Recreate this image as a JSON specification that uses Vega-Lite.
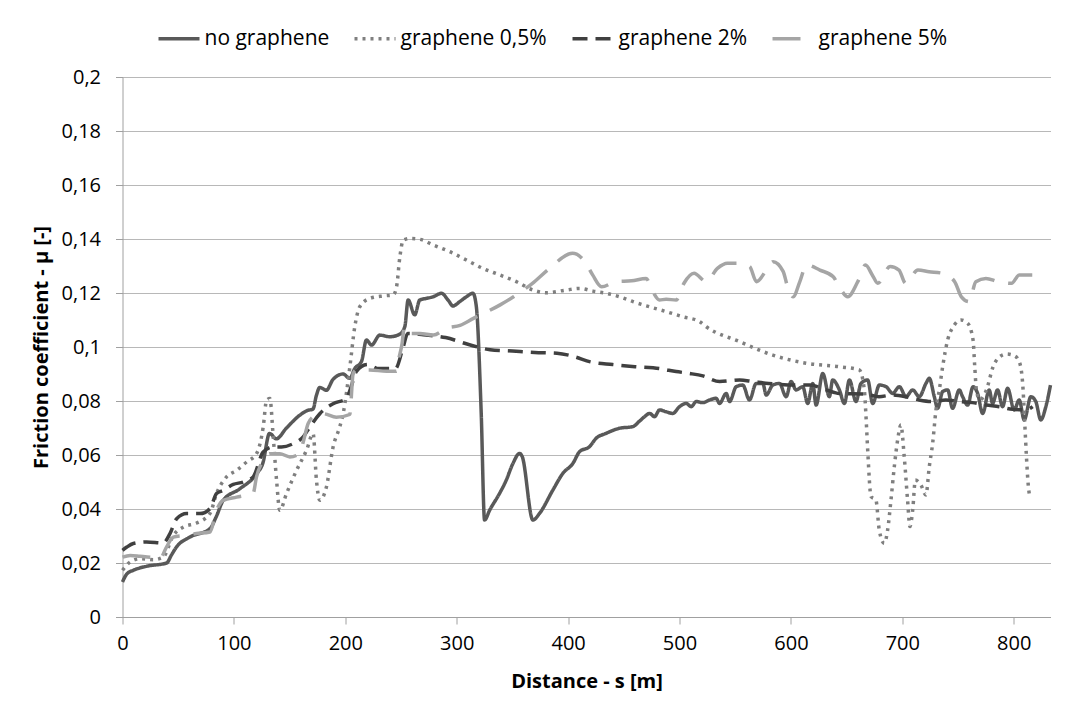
{
  "$schema": "https://vega.github.io/schema/vega-lite/v6.json",
  "width": 928,
  "height": 540,
  "autosize": {"type": "none"},
  "padding": {"left": 122.5, "top": 77, "right": 25, "bottom": 90},
  "background": "white",
  "config": {
    "view": {"stroke": null},
    "font": "Open Sans",
    "axis": {
      "labelFont": "Open Sans", "labelFontSize": 20, "labelColor": "#000000",
      "titleFont": "Open Sans", "titleFontSize": 20, "titleFontWeight": "bold", "titleColor": "#000000",
      "domainColor": "#a0a0a0", "domainWidth": 1, "tickColor": "#a0a0a0", "tickSize": 7,
      "gridColor": "#b8b8b8", "gridWidth": 1
    },
    "legend": {
      "labelFont": "Open Sans", "labelFontSize": 21, "labelColor": "#000000",
      "symbolType": "stroke", "symbolSize": 1681, "symbolStrokeWidth": 3.5,
      "columnPadding": 18, "labelOffset": 3, "labelLimit": 400
    }
  },
  "datasets": {
    "rows": [
      {"series":"no graphene","s":0,"mu":0.013},{"series":"no graphene","s":4,"mu":0.016},{"series":"no graphene","s":9.7,"mu":0.0173},{"series":"no graphene","s":21.7,"mu":0.0188},{"series":"no graphene","s":39.6,"mu":0.02},{"series":"no graphene","s":44,"mu":0.023},{"series":"no graphene","s":48.6,"mu":0.026},{"series":"no graphene","s":60.5,"mu":0.0296},{"series":"no graphene","s":78.5,"mu":0.0327},{"series":"no graphene","s":84,"mu":0.037},{"series":"no graphene","s":90.4,"mu":0.0432},{"series":"no graphene","s":105.4,"mu":0.0475},{"series":"no graphene","s":120.3,"mu":0.053},{"series":"no graphene","s":126,"mu":0.057},{"series":"no graphene","s":132,"mu":0.068},{"series":"no graphene","s":138,"mu":0.066},{"series":"no graphene","s":147.2,"mu":0.07},{"series":"no graphene","s":159,"mu":0.0747},{"series":"no graphene","s":166,"mu":0.0765},{"series":"no graphene","s":171,"mu":0.077},{"series":"no graphene","s":174,"mu":0.082},{"series":"no graphene","s":177,"mu":0.085},{"series":"no graphene","s":183,"mu":0.084},{"series":"no graphene","s":189,"mu":0.088},{"series":"no graphene","s":198,"mu":0.09},{"series":"no graphene","s":204,"mu":0.0884},{"series":"no graphene","s":208.6,"mu":0.0921},{"series":"no graphene","s":214.5,"mu":0.0946},{"series":"no graphene","s":219,"mu":0.1026},{"series":"no graphene","s":223.5,"mu":0.1007},{"series":"no graphene","s":231,"mu":0.1044},{"series":"no graphene","s":240,"mu":0.1038},{"series":"no graphene","s":249,"mu":0.1048},{"series":"no graphene","s":253.4,"mu":0.1075},{"series":"no graphene","s":256.4,"mu":0.1174},{"series":"no graphene","s":262.3,"mu":0.1119},{"series":"no graphene","s":266.8,"mu":0.1174},{"series":"no graphene","s":272.8,"mu":0.118},{"series":"no graphene","s":278.8,"mu":0.1186},{"series":"no graphene","s":286.3,"mu":0.1199},{"series":"no graphene","s":292.2,"mu":0.1174},{"series":"no graphene","s":296.7,"mu":0.1152},{"series":"no graphene","s":302.7,"mu":0.1168},{"series":"no graphene","s":308.7,"mu":0.1186},{"series":"no graphene","s":314.6,"mu":0.1199},{"series":"no graphene","s":317.6,"mu":0.115},{"series":"no graphene","s":322,"mu":0.0754},{"series":"no graphene","s":325,"mu":0.0359},{"series":"no graphene","s":329.6,"mu":0.0396},{"series":"no graphene","s":338.5,"mu":0.0458},{"series":"no graphene","s":344.5,"mu":0.0507},{"series":"no graphene","s":350.5,"mu":0.0569},{"series":"no graphene","s":356.4,"mu":0.0606},{"series":"no graphene","s":358.8,"mu":0.0594},{"series":"no graphene","s":368.4,"mu":0.0359},{"series":"no graphene","s":374.4,"mu":0.0384},{"series":"no graphene","s":386.3,"mu":0.047},{"series":"no graphene","s":395.3,"mu":0.0532},{"series":"no graphene","s":404.3,"mu":0.0569},{"series":"no graphene","s":410.2,"mu":0.0612},{"series":"no graphene","s":419.2,"mu":0.0631},{"series":"no graphene","s":425.2,"mu":0.0662},{"series":"no graphene","s":434,"mu":0.068},{"series":"no graphene","s":446,"mu":0.0699},{"series":"no graphene","s":458,"mu":0.0705},{"series":"no graphene","s":464,"mu":0.0725},{"series":"no graphene","s":468.6,"mu":0.0742},{"series":"no graphene","s":473.1,"mu":0.0754},{"series":"no graphene","s":477.6,"mu":0.0742},{"series":"no graphene","s":482.1,"mu":0.0767},{"series":"no graphene","s":488,"mu":0.076},{"series":"no graphene","s":494,"mu":0.0754},{"series":"no graphene","s":500,"mu":0.0779},{"series":"no graphene","s":506,"mu":0.0791},{"series":"no graphene","s":510.5,"mu":0.0779},{"series":"no graphene","s":515,"mu":0.0798},{"series":"no graphene","s":521,"mu":0.0794},{"series":"no graphene","s":527,"mu":0.0804},{"series":"no graphene","s":532.9,"mu":0.081},{"series":"no graphene","s":535.9,"mu":0.0791},{"series":"no graphene","s":541.9,"mu":0.0828},{"series":"no graphene","s":544.9,"mu":0.0798},{"series":"no graphene","s":550.9,"mu":0.0853},{"series":"no graphene","s":556.8,"mu":0.0859},{"series":"no graphene","s":562.8,"mu":0.0804},{"series":"no graphene","s":568.8,"mu":0.0865},{"series":"no graphene","s":574.8,"mu":0.0865},{"series":"no graphene","s":577.8,"mu":0.0822},{"series":"no graphene","s":583.7,"mu":0.0859},{"series":"no graphene","s":589.7,"mu":0.0865},{"series":"no graphene","s":595.7,"mu":0.0816},{"series":"no graphene","s":600.2,"mu":0.0872},{"series":"no graphene","s":604.6,"mu":0.0841},{"series":"no graphene","s":610.6,"mu":0.0853},{"series":"no graphene","s":615.1,"mu":0.0791},{"series":"no graphene","s":619.6,"mu":0.0865},{"series":"no graphene","s":622.6,"mu":0.0785},{"series":"no graphene","s":628.6,"mu":0.0902},{"series":"no graphene","s":634.5,"mu":0.0816},{"series":"no graphene","s":637.5,"mu":0.0878},{"series":"no graphene","s":643.5,"mu":0.0841},{"series":"no graphene","s":648,"mu":0.0791},{"series":"no graphene","s":652.5,"mu":0.0878},{"series":"no graphene","s":658.4,"mu":0.0798},{"series":"no graphene","s":662.9,"mu":0.0865},{"series":"no graphene","s":668.9,"mu":0.0878},{"series":"no graphene","s":673.4,"mu":0.0791},{"series":"no graphene","s":679.4,"mu":0.0859},{"series":"no graphene","s":685.4,"mu":0.0853},{"series":"no graphene","s":691.3,"mu":0.0828},{"series":"no graphene","s":697.3,"mu":0.0853},{"series":"no graphene","s":703.3,"mu":0.0816},{"series":"no graphene","s":709.3,"mu":0.0841},{"series":"no graphene","s":715.2,"mu":0.0816},{"series":"no graphene","s":721.2,"mu":0.0865},{"series":"no graphene","s":724.2,"mu":0.0884},{"series":"no graphene","s":728.7,"mu":0.0816},{"series":"no graphene","s":731.7,"mu":0.0773},{"series":"no graphene","s":736.2,"mu":0.0835},{"series":"no graphene","s":740.7,"mu":0.0841},{"series":"no graphene","s":745.1,"mu":0.0773},{"series":"no graphene","s":751.1,"mu":0.0841},{"series":"no graphene","s":754.1,"mu":0.0816},{"series":"no graphene","s":758.6,"mu":0.0785},{"series":"no graphene","s":763.5,"mu":0.0853},{"series":"no graphene","s":767.6,"mu":0.0828},{"series":"no graphene","s":772.1,"mu":0.0754},{"series":"no graphene","s":778,"mu":0.0841},{"series":"no graphene","s":781,"mu":0.0791},{"series":"no graphene","s":785.5,"mu":0.0841},{"series":"no graphene","s":790,"mu":0.0779},{"series":"no graphene","s":794.5,"mu":0.0847},{"series":"no graphene","s":800.4,"mu":0.0767},{"series":"no graphene","s":804.9,"mu":0.0804},{"series":"no graphene","s":809.4,"mu":0.073},{"series":"no graphene","s":815.4,"mu":0.0816},{"series":"no graphene","s":819.8,"mu":0.0798},{"series":"no graphene","s":824.3,"mu":0.073},{"series":"no graphene","s":828.8,"mu":0.0779},{"series":"no graphene","s":833,"mu":0.0859},

      {"series":"graphene 0,5%","s":0,"mu":0.0173},{"series":"graphene 0,5%","s":6.9,"mu":0.0204},{"series":"graphene 0,5%","s":15.7,"mu":0.0216},{"series":"graphene 0,5%","s":27.7,"mu":0.0212},{"series":"graphene 0,5%","s":36.6,"mu":0.0222},{"series":"graphene 0,5%","s":45.6,"mu":0.0302},{"series":"graphene 0,5%","s":54.6,"mu":0.0333},{"series":"graphene 0,5%","s":66.5,"mu":0.0348},{"series":"graphene 0,5%","s":78.5,"mu":0.0383},{"series":"graphene 0,5%","s":84.4,"mu":0.0457},{"series":"graphene 0,5%","s":93.4,"mu":0.0519},{"series":"graphene 0,5%","s":102.4,"mu":0.0543},{"series":"graphene 0,5%","s":111.4,"mu":0.0574},{"series":"graphene 0,5%","s":120.3,"mu":0.0605},{"series":"graphene 0,5%","s":126.3,"mu":0.0704},{"series":"graphene 0,5%","s":129.3,"mu":0.0802},{"series":"graphene 0,5%","s":132.3,"mu":0.0809},{"series":"graphene 0,5%","s":135.3,"mu":0.0667},{"series":"graphene 0,5%","s":138.3,"mu":0.0506},{"series":"graphene 0,5%","s":141.2,"mu":0.0395},{"series":"graphene 0,5%","s":147.2,"mu":0.0457},{"series":"graphene 0,5%","s":156.2,"mu":0.0543},{"series":"graphene 0,5%","s":165.1,"mu":0.0617},{"series":"graphene 0,5%","s":171.1,"mu":0.0679},{"series":"graphene 0,5%","s":174.1,"mu":0.0506},{"series":"graphene 0,5%","s":177.1,"mu":0.0432},{"series":"graphene 0,5%","s":183,"mu":0.0481},{"series":"graphene 0,5%","s":189.1,"mu":0.0631},{"series":"graphene 0,5%","s":195,"mu":0.0704},{"series":"graphene 0,5%","s":198.1,"mu":0.0754},{"series":"graphene 0,5%","s":204.1,"mu":0.0927},{"series":"graphene 0,5%","s":208.5,"mu":0.1075},{"series":"graphene 0,5%","s":213,"mu":0.1149},{"series":"graphene 0,5%","s":222,"mu":0.118},{"series":"graphene 0,5%","s":234,"mu":0.1189},{"series":"graphene 0,5%","s":243,"mu":0.1193},{"series":"graphene 0,5%","s":246,"mu":0.1223},{"series":"graphene 0,5%","s":249,"mu":0.1335},{"series":"graphene 0,5%","s":252,"mu":0.1396},{"series":"graphene 0,5%","s":258,"mu":0.1402},{"series":"graphene 0,5%","s":266.8,"mu":0.1399},{"series":"graphene 0,5%","s":278.8,"mu":0.1378},{"series":"graphene 0,5%","s":293.7,"mu":0.1353},{"series":"graphene 0,5%","s":308.7,"mu":0.1322},{"series":"graphene 0,5%","s":323.6,"mu":0.1291},{"series":"graphene 0,5%","s":338.6,"mu":0.1267},{"series":"graphene 0,5%","s":353.5,"mu":0.1242},{"series":"graphene 0,5%","s":368.5,"mu":0.1211},{"series":"graphene 0,5%","s":380.4,"mu":0.1201},{"series":"graphene 0,5%","s":398.4,"mu":0.1211},{"series":"graphene 0,5%","s":410.3,"mu":0.1217},{"series":"graphene 0,5%","s":422.3,"mu":0.1207},{"series":"graphene 0,5%","s":434.2,"mu":0.1199},{"series":"graphene 0,5%","s":446.2,"mu":0.1186},{"series":"graphene 0,5%","s":458.2,"mu":0.1168},{"series":"graphene 0,5%","s":473.1,"mu":0.1149},{"series":"graphene 0,5%","s":488,"mu":0.1131},{"series":"graphene 0,5%","s":503,"mu":0.1112},{"series":"graphene 0,5%","s":518,"mu":0.1094},{"series":"graphene 0,5%","s":524,"mu":0.1075},{"series":"graphene 0,5%","s":553.8,"mu":0.102},{"series":"graphene 0,5%","s":583.7,"mu":0.097},{"series":"graphene 0,5%","s":613.6,"mu":0.094},{"series":"graphene 0,5%","s":643.5,"mu":0.0927},{"series":"graphene 0,5%","s":661.4,"mu":0.0915},{"series":"graphene 0,5%","s":665.9,"mu":0.0841},{"series":"graphene 0,5%","s":667.4,"mu":0.0742},{"series":"graphene 0,5%","s":668.9,"mu":0.0619},{"series":"graphene 0,5%","s":671.9,"mu":0.0446},{"series":"graphene 0,5%","s":676.3,"mu":0.0433},{"series":"graphene 0,5%","s":679.3,"mu":0.0322},{"series":"graphene 0,5%","s":683.8,"mu":0.0273},{"series":"graphene 0,5%","s":686.8,"mu":0.0322},{"series":"graphene 0,5%","s":689.8,"mu":0.0433},{"series":"graphene 0,5%","s":692.8,"mu":0.0557},{"series":"graphene 0,5%","s":695.8,"mu":0.0656},{"series":"graphene 0,5%","s":698.7,"mu":0.0711},{"series":"graphene 0,5%","s":701.7,"mu":0.0594},{"series":"graphene 0,5%","s":704.7,"mu":0.0433},{"series":"graphene 0,5%","s":706.8,"mu":0.0335},{"series":"graphene 0,5%","s":709.3,"mu":0.0396},{"series":"graphene 0,5%","s":711.7,"mu":0.0507},{"series":"graphene 0,5%","s":716.7,"mu":0.0489},{"series":"graphene 0,5%","s":721.2,"mu":0.0452},{"series":"graphene 0,5%","s":724.2,"mu":0.0557},{"series":"graphene 0,5%","s":727.2,"mu":0.0643},{"series":"graphene 0,5%","s":730.2,"mu":0.0767},{"series":"graphene 0,5%","s":733.2,"mu":0.0841},{"series":"graphene 0,5%","s":736.2,"mu":0.0927},{"series":"graphene 0,5%","s":740.7,"mu":0.1026},{"series":"graphene 0,5%","s":746.6,"mu":0.1081},{"series":"graphene 0,5%","s":752.6,"mu":0.11},{"series":"graphene 0,5%","s":758.6,"mu":0.1088},{"series":"graphene 0,5%","s":763.5,"mu":0.1026},{"series":"graphene 0,5%","s":765,"mu":0.0927},{"series":"graphene 0,5%","s":766.5,"mu":0.0841},{"series":"graphene 0,5%","s":769.5,"mu":0.0804},{"series":"graphene 0,5%","s":775.5,"mu":0.0841},{"series":"graphene 0,5%","s":781.5,"mu":0.0927},{"series":"graphene 0,5%","s":787.4,"mu":0.0964},{"series":"graphene 0,5%","s":793.4,"mu":0.0974},{"series":"graphene 0,5%","s":800.9,"mu":0.0967},{"series":"graphene 0,5%","s":805.4,"mu":0.094},{"series":"graphene 0,5%","s":808.4,"mu":0.0841},{"series":"graphene 0,5%","s":809.9,"mu":0.0717},{"series":"graphene 0,5%","s":811.4,"mu":0.0594},{"series":"graphene 0,5%","s":812.9,"mu":0.0495},{"series":"graphene 0,5%","s":814.3,"mu":0.0446},

      {"series":"graphene 2%","s":0,"mu":0.0247},{"series":"graphene 2%","s":3.9,"mu":0.0259},{"series":"graphene 2%","s":9.7,"mu":0.0272},{"series":"graphene 2%","s":21.7,"mu":0.0278},{"series":"graphene 2%","s":36.6,"mu":0.0274},{"series":"graphene 2%","s":42.6,"mu":0.0309},{"series":"graphene 2%","s":48.6,"mu":0.0364},{"series":"graphene 2%","s":57.6,"mu":0.0383},{"series":"graphene 2%","s":69.5,"mu":0.0383},{"series":"graphene 2%","s":78.5,"mu":0.0401},{"series":"graphene 2%","s":84.4,"mu":0.0457},{"series":"graphene 2%","s":90.4,"mu":0.0469},{"series":"graphene 2%","s":99.4,"mu":0.0491},{"series":"graphene 2%","s":108.3,"mu":0.05},{"series":"graphene 2%","s":117.3,"mu":0.0519},{"series":"graphene 2%","s":126.3,"mu":0.0611},{"series":"graphene 2%","s":135.3,"mu":0.063},{"series":"graphene 2%","s":142.7,"mu":0.063},{"series":"graphene 2%","s":153.2,"mu":0.0642},{"series":"graphene 2%","s":162.2,"mu":0.0667},{"series":"graphene 2%","s":168.2,"mu":0.0704},{"series":"graphene 2%","s":177.1,"mu":0.0753},{"series":"graphene 2%","s":189,"mu":0.079},{"series":"graphene 2%","s":201,"mu":0.0809},{"series":"graphene 2%","s":205,"mu":0.085},{"series":"graphene 2%","s":210,"mu":0.091},{"series":"graphene 2%","s":220,"mu":0.0935},{"series":"graphene 2%","s":230,"mu":0.092},{"series":"graphene 2%","s":245,"mu":0.092},{"series":"graphene 2%","s":252,"mu":0.1},{"series":"graphene 2%","s":256,"mu":0.105},{"series":"graphene 2%","s":270,"mu":0.1045},{"series":"graphene 2%","s":290,"mu":0.1035},{"series":"graphene 2%","s":310,"mu":0.101},{"series":"graphene 2%","s":330,"mu":0.099},{"series":"graphene 2%","s":350,"mu":0.0985},{"series":"graphene 2%","s":370,"mu":0.098},{"series":"graphene 2%","s":390,"mu":0.0977},{"series":"graphene 2%","s":405,"mu":0.0965},{"series":"graphene 2%","s":420,"mu":0.0945},{"series":"graphene 2%","s":440,"mu":0.0935},{"series":"graphene 2%","s":460,"mu":0.0927},{"series":"graphene 2%","s":482,"mu":0.092},{"series":"graphene 2%","s":497,"mu":0.0909},{"series":"graphene 2%","s":509,"mu":0.0902},{"series":"graphene 2%","s":521,"mu":0.0893},{"series":"graphene 2%","s":536,"mu":0.0872},{"series":"graphene 2%","s":554,"mu":0.0878},{"series":"graphene 2%","s":566,"mu":0.0872},{"series":"graphene 2%","s":580,"mu":0.0865},{"series":"graphene 2%","s":605,"mu":0.0859},{"series":"graphene 2%","s":617,"mu":0.0859},{"series":"graphene 2%","s":632,"mu":0.0841},{"series":"graphene 2%","s":643.5,"mu":0.0828},{"series":"graphene 2%","s":667,"mu":0.0826},{"series":"graphene 2%","s":679,"mu":0.0816},{"series":"graphene 2%","s":691,"mu":0.0822},{"series":"graphene 2%","s":703,"mu":0.0816},{"series":"graphene 2%","s":715,"mu":0.0804},{"series":"graphene 2%","s":727,"mu":0.0798},{"series":"graphene 2%","s":739,"mu":0.0804},{"series":"graphene 2%","s":751,"mu":0.0798},{"series":"graphene 2%","s":763,"mu":0.0794},{"series":"graphene 2%","s":775,"mu":0.0785},{"series":"graphene 2%","s":787,"mu":0.0779},{"series":"graphene 2%","s":799,"mu":0.0769},{"series":"graphene 2%","s":811,"mu":0.0767},{"series":"graphene 2%","s":817,"mu":0.0779},

      {"series":"graphene 5%","s":0,"mu":0.0222},{"series":"graphene 5%","s":6.9,"mu":0.0228},{"series":"graphene 5%","s":15.7,"mu":0.0225},{"series":"graphene 5%","s":27.7,"mu":0.022},{"series":"graphene 5%","s":33.6,"mu":0.0216},{"series":"graphene 5%","s":39.6,"mu":0.026},{"series":"graphene 5%","s":45.6,"mu":0.0296},{"series":"graphene 5%","s":54.6,"mu":0.0302},{"series":"graphene 5%","s":66.5,"mu":0.0309},{"series":"graphene 5%","s":78.5,"mu":0.0315},{"series":"graphene 5%","s":84.4,"mu":0.0395},{"series":"graphene 5%","s":90.4,"mu":0.0432},{"series":"graphene 5%","s":102.4,"mu":0.0444},{"series":"graphene 5%","s":117.3,"mu":0.0459},{"series":"graphene 5%","s":120.3,"mu":0.0519},{"series":"graphene 5%","s":126.3,"mu":0.058},{"series":"graphene 5%","s":132.3,"mu":0.0605},{"series":"graphene 5%","s":141.2,"mu":0.0605},{"series":"graphene 5%","s":150.2,"mu":0.0593},{"series":"graphene 5%","s":159.2,"mu":0.0605},{"series":"graphene 5%","s":162.2,"mu":0.0648},{"series":"graphene 5%","s":166.6,"mu":0.0716},{"series":"graphene 5%","s":171.1,"mu":0.0741},{"series":"graphene 5%","s":180,"mu":0.0753},{"series":"graphene 5%","s":192,"mu":0.074},{"series":"graphene 5%","s":204,"mu":0.075},{"series":"graphene 5%","s":207,"mu":0.09},{"series":"graphene 5%","s":210,"mu":0.0915},{"series":"graphene 5%","s":222,"mu":0.0915},{"series":"graphene 5%","s":237,"mu":0.091},{"series":"graphene 5%","s":246,"mu":0.091},{"series":"graphene 5%","s":247.5,"mu":0.0946},{"series":"graphene 5%","s":251,"mu":0.1014},{"series":"graphene 5%","s":253,"mu":0.1075},{"series":"graphene 5%","s":258,"mu":0.105},{"series":"graphene 5%","s":267,"mu":0.105},{"series":"graphene 5%","s":279,"mu":0.1044},{"series":"graphene 5%","s":291,"mu":0.107},{"series":"graphene 5%","s":303,"mu":0.108},{"series":"graphene 5%","s":315,"mu":0.1106},{"series":"graphene 5%","s":339,"mu":0.1156},{"series":"graphene 5%","s":351,"mu":0.1186},{"series":"graphene 5%","s":368,"mu":0.1236},{"series":"graphene 5%","s":383,"mu":0.129},{"series":"graphene 5%","s":404,"mu":0.1347},{"series":"graphene 5%","s":415,"mu":0.1316},{"series":"graphene 5%","s":422,"mu":0.1267},{"series":"graphene 5%","s":430,"mu":0.1223},{"series":"graphene 5%","s":443,"mu":0.1242},{"series":"graphene 5%","s":457,"mu":0.1245},{"series":"graphene 5%","s":470,"mu":0.1254},{"series":"graphene 5%","s":476,"mu":0.1205},{"series":"graphene 5%","s":482,"mu":0.1174},{"series":"graphene 5%","s":488,"mu":0.1177},{"series":"graphene 5%","s":497,"mu":0.1174},{"series":"graphene 5%","s":504,"mu":0.1236},{"series":"graphene 5%","s":513,"mu":0.1273},{"series":"graphene 5%","s":524,"mu":0.1242},{"series":"graphene 5%","s":534,"mu":0.1291},{"series":"graphene 5%","s":543,"mu":0.131},{"series":"graphene 5%","s":554,"mu":0.131},{"series":"graphene 5%","s":563,"mu":0.1298},{"series":"graphene 5%","s":569,"mu":0.1242},{"series":"graphene 5%","s":578,"mu":0.1285},{"series":"graphene 5%","s":584,"mu":0.1316},{"series":"graphene 5%","s":593,"mu":0.128},{"series":"graphene 5%","s":597,"mu":0.1223},{"series":"graphene 5%","s":602,"mu":0.1186},{"series":"graphene 5%","s":608,"mu":0.1242},{"series":"graphene 5%","s":614,"mu":0.1304},{"series":"graphene 5%","s":626,"mu":0.1285},{"series":"graphene 5%","s":638,"mu":0.126},{"series":"graphene 5%","s":645,"mu":0.1211},{"series":"graphene 5%","s":651,"mu":0.1186},{"series":"graphene 5%","s":660,"mu":0.1242},{"series":"graphene 5%","s":667,"mu":0.1304},{"series":"graphene 5%","s":673,"mu":0.1267},{"series":"graphene 5%","s":678,"mu":0.1236},{"series":"graphene 5%","s":689,"mu":0.1298},{"series":"graphene 5%","s":697,"mu":0.1285},{"series":"graphene 5%","s":703,"mu":0.1236},{"series":"graphene 5%","s":714,"mu":0.1285},{"series":"graphene 5%","s":724,"mu":0.1279},{"series":"graphene 5%","s":736,"mu":0.1273},{"series":"graphene 5%","s":747,"mu":0.1242},{"series":"graphene 5%","s":753,"mu":0.1186},{"series":"graphene 5%","s":760,"mu":0.1168},{"series":"graphene 5%","s":766,"mu":0.1242},{"series":"graphene 5%","s":775,"mu":0.1254},{"series":"graphene 5%","s":786,"mu":0.1242},{"series":"graphene 5%","s":798,"mu":0.1236},{"series":"graphene 5%","s":805,"mu":0.1267},{"series":"graphene 5%","s":818,"mu":0.1267}
    ]
  },
  "data": {"name": "rows"},
  "mark": {"type": "line", "strokeWidth": 3.5, "strokeCap": "butt", "strokeJoin": "round", "interpolate": "monotone"},
  "encoding": {
    "x": {
      "field": "s", "type": "quantitative",
      "scale": {"domain": [0, 833], "nice": false, "zero": false},
      "axis": {"values": [0,100,200,300,400,500,600,700,800], "title": "Distance - s [m]", "grid": false, "labelPadding": 9, "titlePadding": 18, "labelFlush": false}
    },
    "y": {
      "field": "mu", "type": "quantitative",
      "scale": {"domain": [0, 0.2], "nice": false},
      "axis": {"values": [0,0.02,0.04,0.06,0.08,0.1,0.12,0.14,0.16,0.18,0.2], "labelExpr": "replace(format(datum.value, '~g'), '.', ',')", "title": "Friction coefficient - µ [-]", "grid": true, "labelPadding": 15, "titlePadding": 10, "labelFlush": false}
    },
    "color": {
      "field": "series", "type": "nominal",
      "scale": {"domain": ["no graphene","graphene 0,5%","graphene 2%","graphene 5%"], "range": ["#595959","#7f7f7f","#404040","#a5a5a5"]},
      "legend": {"orient": "none", "direction": "horizontal", "title": null, "legendX": 34, "legendY": -61}
    },
    "strokeDash": {
      "field": "series", "type": "nominal",
      "scale": {"domain": ["no graphene","graphene 0,5%","graphene 2%","graphene 5%"], "range": [[1,0],[3,5],[15,8],[28,14]]},
      "legend": {"orient": "none", "direction": "horizontal", "title": null, "legendX": 34, "legendY": -61}
    }
  }
}
